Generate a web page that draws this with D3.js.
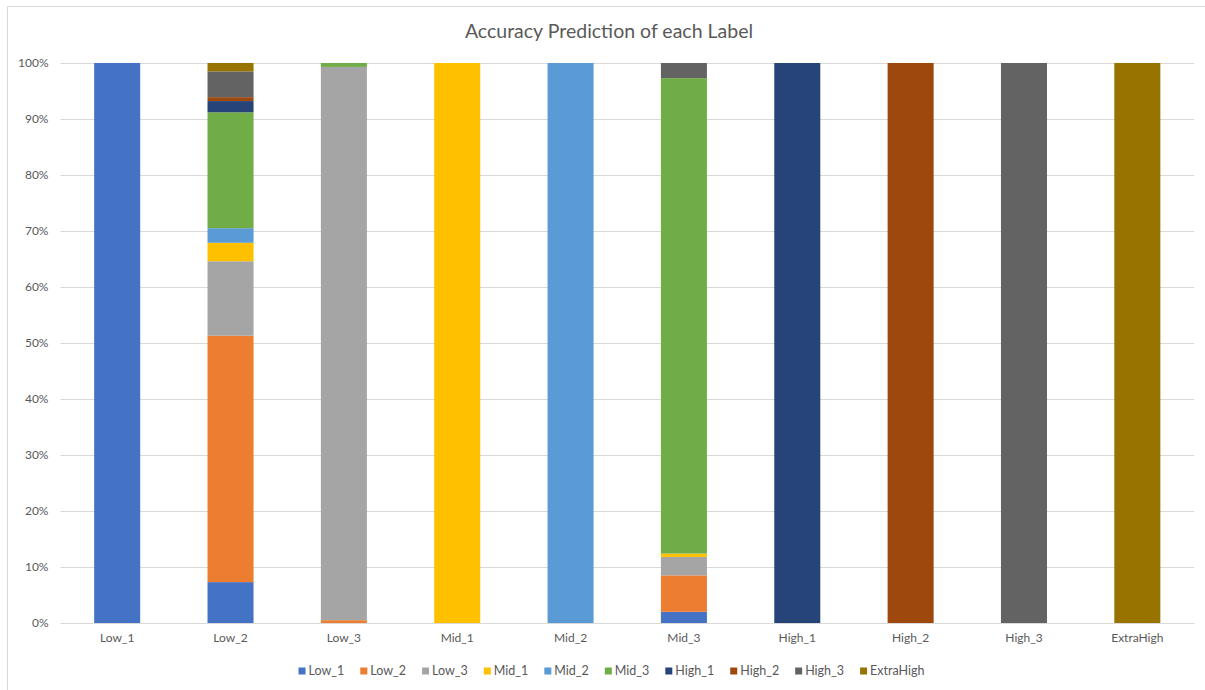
<!DOCTYPE html>
<html>
<head>
<meta charset="utf-8">
<script src="https://cdn.jsdelivr.net/npm/d3@7"></script>
<style>
  html, body { margin: 0; padding: 0; background: #fff; }
  svg { display: block; }
  text { font-family: Lato, "Open Sans", sans-serif; }
</style>
</head>
<body>
<svg id="chart" width="1205" height="690"></svg>
<script>
// Actual label on the x axis; each stacked segment is the share predicted as a given label (%).
const categories = ["Low_1", "Low_2", "Low_3", "Mid_1", "Mid_2", "Mid_3", "High_1", "High_2", "High_3", "ExtraHigh"];
const seriesNames = ["Low_1", "Low_2", "Low_3", "Mid_1", "Mid_2", "Mid_3", "High_1", "High_2", "High_3", "ExtraHigh"];

const low1Values      = [100, 7.3, 0,    0,   0,   2.0,  0,   0,   0,   0];
const low2Values      = [0,   44.0, 0.5, 0,   0,   6.5,  0,   0,   0,   0];
const low3Values      = [0,   13.3, 98.8, 0,  0,   3.3,  0,   0,   0,   0];
const mid1Values      = [0,   3.3, 0,    100, 0,   0.6,  0,   0,   0,   0];
const mid2Values      = [0,   2.6, 0,    0,   100, 0,    0,   0,   0,   0];
const mid3Values      = [0,   20.7, 0.7, 0,   0,   84.9, 0,   0,   0,   0];
const high1Values     = [0,   2.0, 0,    0,   0,   0,    100, 0,   0,   0];
const high2Values     = [0,   0.7, 0,    0,   0,   0,    0,   100, 0,   0];
const high3Values     = [0,   4.6, 0,    0,   0,   2.7,  0,   0,   100, 0];
const extraHighValues = [0,   1.5, 0,    0,   0,   0,    0,   0,   0,   100];

const yTickValues = [0, 10, 20, 30, 40, 50, 60, 70, 80, 90, 100];
const colors = ["#4472C4", "#ED7D31", "#A5A5A5", "#FFC000", "#5B9BD5", "#70AD47", "#264478", "#9E480E", "#636363", "#997300"];

const seriesValues = [low1Values, low2Values, low3Values, mid1Values, mid2Values, mid3Values,
                      high1Values, high2Values, high3Values, extraHighValues];

// Build row objects for d3.stack
const rows = categories.map((c, i) => {
  const r = { category: c };
  seriesNames.forEach((s, j) => { r[s] = seriesValues[j][i]; });
  return r;
});
const stacked = d3.stack().keys(seriesNames)(rows);

const svg = d3.select("#chart");
const W = 1205, H = 690;

// Chart area frame
svg.append("rect")
  .attr("x", 7.5).attr("y", 6.5)
  .attr("width", W + 10).attr("height", H + 10)
  .attr("fill", "#fff").attr("stroke", "#d9d9d9").attr("stroke-width", 1);

const plot = { left: 60.5, right: 1194, top: 63, bottom: 623 };

const x = d3.scaleBand()
  .domain(categories)
  .range([plot.left, plot.right])
  .paddingInner(0.594)
  .paddingOuter(0.297);

const y = d3.scaleLinear().domain([0, 100]).range([plot.bottom, plot.top]);

// Gridlines + y labels
const yAxis = d3.axisLeft(y)
  .tickValues(yTickValues)
  .tickSize(-(plot.right - plot.left))
  .tickPadding(12)
  .tickFormat(d => d + "%");

const gy = svg.append("g")
  .attr("transform", `translate(${plot.left},0)`)
  .call(yAxis);
gy.select(".domain").remove();
gy.selectAll(".tick line").attr("stroke", "#d9d9d9").attr("stroke-width", 1);
gy.selectAll(".tick text")
  .attr("fill", "#595959")
  .style("font-size", "12px");

// Stacked bars
svg.append("g")
  .selectAll("g")
  .data(stacked)
  .join("g")
  .attr("fill", (d, i) => colors[i])
  .selectAll("rect")
  .data(d => d)
  .join("rect")
  .attr("x", d => x(d.data.category))
  .attr("width", x.bandwidth())
  .attr("y", d => y(d[1]))
  .attr("height", d => y(d[0]) - y(d[1]));

// Category axis
const xAxis = d3.axisBottom(x).tickSize(0).tickPadding(10);
const gx = svg.append("g")
  .attr("transform", `translate(0,${plot.bottom})`)
  .call(xAxis);
gx.select(".domain").attr("stroke", "#d9d9d9");
gx.selectAll(".tick text")
  .attr("fill", "#595959")
  .style("font-size", "12px");

// Title
svg.append("text")
  .attr("x", 609).attr("y", 38)
  .attr("text-anchor", "middle")
  .attr("fill", "#595959")
  .style("font-size", "19.5px")
  .text("Accuracy Prediction of each Label");

// Legend
const legend = svg.append("g");
const items = legend.selectAll("g")
  .data(seriesNames)
  .join("g");
items.append("rect")
  .attr("width", 7).attr("height", 7)
  .attr("y", -7.5)
  .attr("fill", (d, i) => colors[i]);
items.append("text")
  .attr("x", 10)
  .attr("fill", "#595959")
  .style("font-size", "12.5px")
  .text(d => d);

const gap = 16;
let cursor = 0;
items.each(function () {
  const w = 10 + d3.select(this).select("text").node().getComputedTextLength();
  d3.select(this).attr("transform", `translate(${cursor},0)`);
  cursor += w + gap;
});
const totalWidth = cursor - gap;
legend.attr("transform", `translate(${611.5 - totalWidth / 2},675)`);
</script>
</body>
</html>
